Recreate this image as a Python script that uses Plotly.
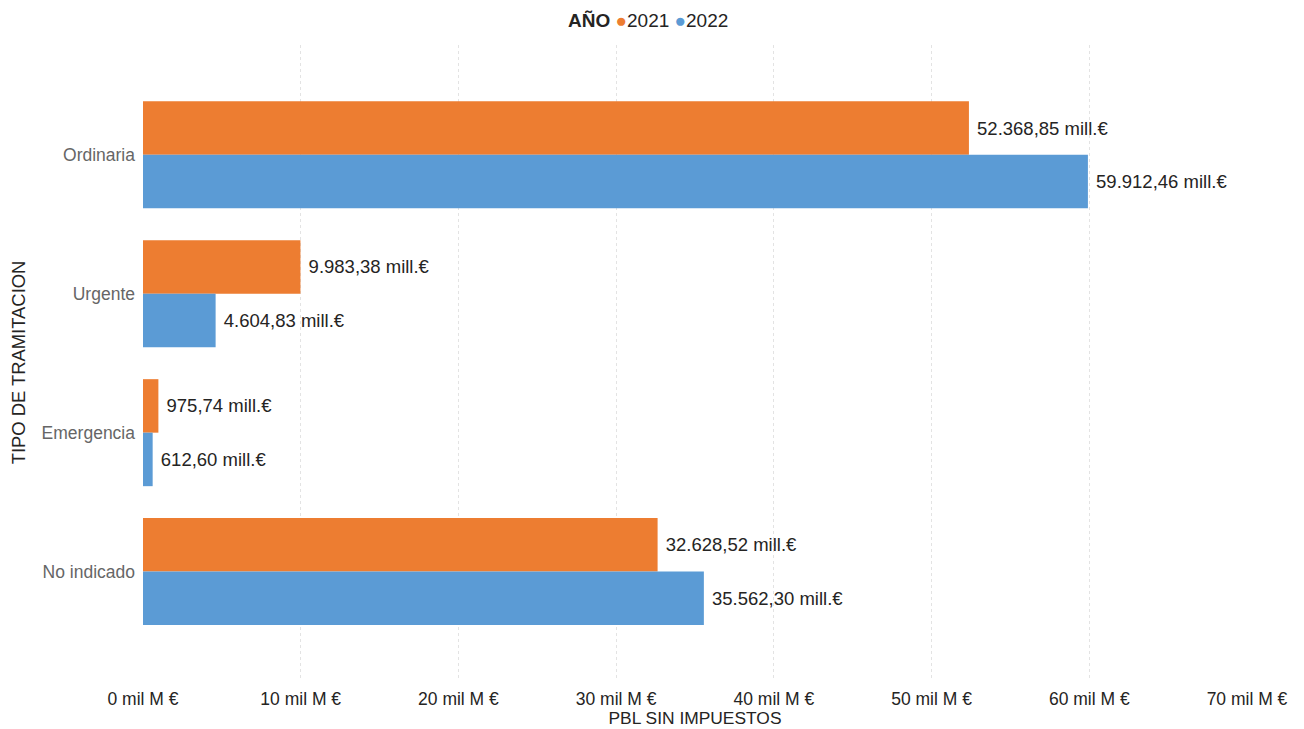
import plotly.graph_objects as go

categorias = ["Ordinaria", "Urgente", "Emergencia", "No indicado"]
valores_2021 = [52368.85, 9983.38, 975.74, 32628.52]
valores_2022 = [59912.46, 4604.83, 612.60, 35562.30]
anios = ["2021", "2022"]
tick_vals = [0, 10, 20, 30, 40, 50, 60, 70]
tick_text = [f"{v} mil M €" for v in tick_vals]

def fmt(v):
    s = f"{v:,.2f}"
    s = s.replace(",", "X").replace(".", ",").replace("X", ".")
    return " " + s + " mill.€"

c21 = "#ED7D31"
c22 = "#5B9BD5"
FONT = "Liberation Sans, Arial"

fig = go.Figure()
for nombre, vals, col in [(anios[0], valores_2021, c21), (anios[1], valores_2022, c22)]:
    fig.add_trace(go.Bar(
        y=categorias, x=[v / 1000 for v in vals], orientation="h",
        name=nombre, marker_color=col, showlegend=False,
        marker_line_width=0,
        text=[fmt(v) for v in vals], textposition="outside",
        textfont=dict(size=18.5, color="#252423", family=FONT),
        cliponaxis=False,
    ))

legend_text = (f"<b>AÑO</b> <span style='color:{c21}'>●</span>{anios[0]} "
               f"<span style='color:{c22}'>●</span>{anios[1]}")
fig.add_annotation(
    text=legend_text, xref="paper", yref="paper", x=0.457, y=1,
    xanchor="center", yanchor="bottom", yshift=12, showarrow=False,
    font=dict(size=19, color="#252423", family=FONT),
)

fig.update_layout(
    width=1304, height=729,
    margin=dict(l=135, r=65, t=37, b=57, autoexpand=False),
    paper_bgcolor="white", plot_bgcolor="white",
    barmode="group", bargap=0.23, bargroupgap=0,
    font=dict(family=FONT, size=16, color="#252423"),
    showlegend=False,
    xaxis=dict(
        range=[0, 70], tickvals=tick_vals, ticktext=tick_text,
        showgrid=True, gridcolor="#E3E3E3", griddash="dot", gridwidth=1,
        zeroline=False, showline=False, ticks="", automargin=False,
        tickfont=dict(size=17.5, color="#252423"),
        ticklabelstandoff=6,
        title=dict(text="PBL SIN IMPUESTOS", font=dict(size=17.4, color="#252423"), standoff=0),
        fixedrange=True,
    ),
    yaxis=dict(
        categoryorder="array", categoryarray=categorias,
        range=[3.78, -0.79], automargin=False,
        showgrid=False, zeroline=False, showline=False, ticks="",
        tickfont=dict(size=17.5, color="#666666"),
        ticklabelstandoff=7,
        title=dict(text="TIPO DE TRAMITACION", font=dict(size=18.4, color="#252423"), standoff=12),
    ),
)

fig.write_html("out.html")
